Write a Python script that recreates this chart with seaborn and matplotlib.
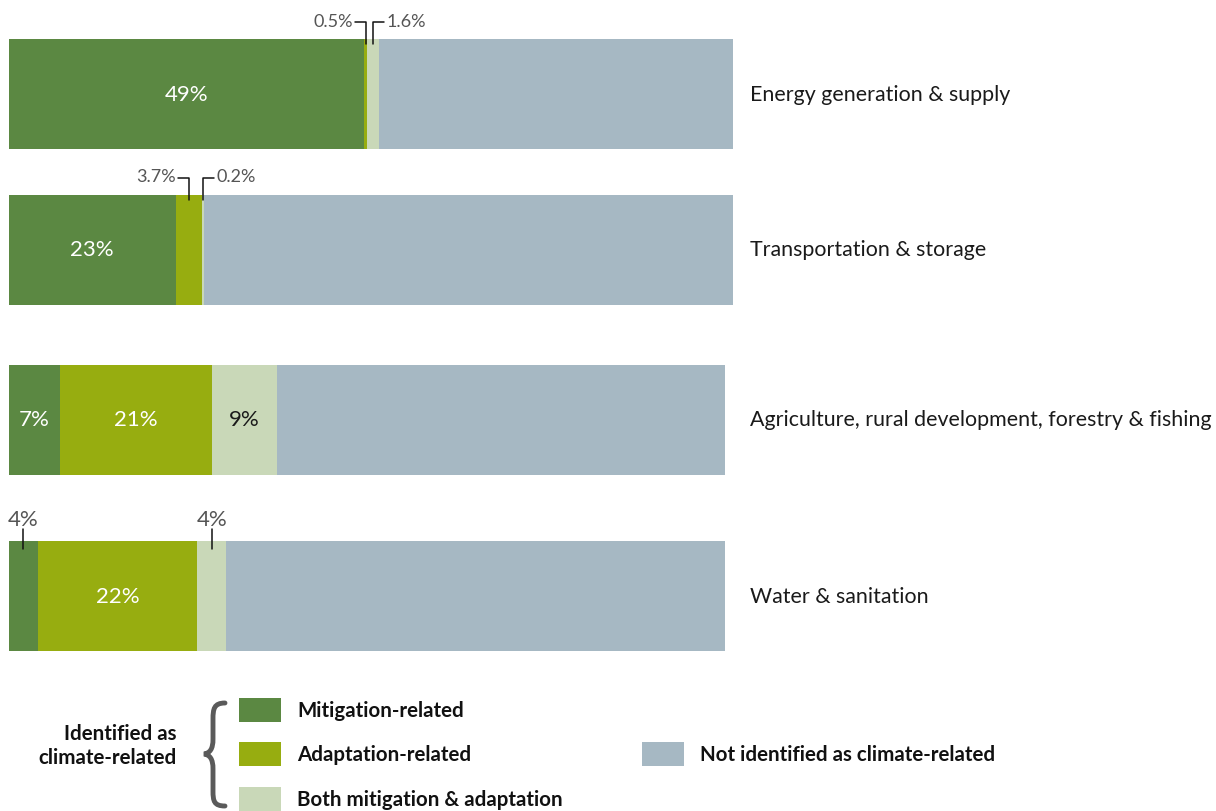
import matplotlib
matplotlib.use("Agg")
import matplotlib.pyplot as plt
import seaborn as sns
from matplotlib.path import Path
from matplotlib.patches import PathPatch, Rectangle

# data
sectors = ['Energy generation & supply', 'Transportation & storage',
           'Agriculture, rural development, forestry & fishing', 'Water & sanitation']
mitigation = [49, 23, 7, 4]
adaptation = [0.5, 3.7, 21, 22]
both = [1.6, 0.2, 9, 4]
not_climate = [48.9, 73.1, 61.9, 68.9]

series = ['Mitigation-related', 'Adaptation-related', 'Both mitigation & adaptation',
          'Not identified as climate-related']
colors = ['#5b8842', '#97ad10', '#c9d8b8', '#a6b8c3']

# layout: row centres (px from top) and bar height
row_y = [95, 250.5, 420.5, 597]
bar_h = 110

sns.set_theme(style='white')
plt.rcParams['font.family'] = ['Lato', 'DejaVu Sans']

fig = plt.figure(figsize=(12.16, 8.12), dpi=100)
ax = fig.add_axes([0, 0, 1, 1])
px = 7.24  # pixels per percent
ax.set_xlim(-9 / px, (1216 - 9) / px)
ax.set_ylim(812, 0)
ax.axis('off')

vals = [mitigation, adaptation, both, not_climate]
lefts = [0, 0, 0, 0]
starts = []
for s, col in zip(vals, colors):
    ax.barh(row_y, s, left=lefts, height=bar_h, color=col, linewidth=0)
    starts.append(list(lefts))
    lefts = [l + v for l, v in zip(lefts, s)]

def centre(k, i):
    return starts[k][i] + vals[k][i] / 2

# labels inside bars
big = 16
for i in range(3):
    ax.text(centre(0, i), row_y[i], f'{mitigation[i]:g}%', color='white', fontsize=big,
            ha='center', va='center')
ax.text(centre(1, 2), row_y[2], f'{adaptation[2]:g}%', color='white', fontsize=big, ha='center', va='center')
ax.text(centre(2, 2), row_y[2], f'{both[2]:g}%', color='#1a1a1a', fontsize=big, ha='center', va='center')
ax.text(centre(1, 3), row_y[3], f'{adaptation[3]:g}%', color='white', fontsize=big, ha='center', va='center')

# callouts above thin segments
grey = '#555555'
def callout(k, i, side, rise=17):
    x = centre(k, i)
    top = row_y[i] - bar_h / 2
    yh = top - rise
    dx = 1.5 if side == 'right' else -1.5
    ax.plot([x, x, x + dx], [top + 5, yh, yh], color='#111111', lw=1.1)
    ax.text(x + dx + (0.3 if side == 'right' else -0.3), yh - 1, f'{vals[k][i]:g}%',
            color=grey, fontsize=13, ha='left' if side == 'right' else 'right', va='center')

callout(1, 0, 'left')
callout(2, 0, 'right')
callout(1, 1, 'left')
callout(2, 1, 'right')

for k in (0, 2):
    x = centre(k, 3)
    top = row_y[3] - bar_h / 2
    ax.plot([x, x], [top - 12, top + 8], color='#111111', lw=1.1)
    ax.text(x, top - 22, f'{vals[k][3]:g}%', color=grey, fontsize=16, ha='center', va='center')

# sector names on the right
for i, name in enumerate(sectors):
    ax.text((750 - 9) / px, row_y[i], name, fontsize=15.4, color='#1a1a1a', ha='left', va='center')

# legend in pixel space
lg = fig.add_axes([0, 0, 1, 1])
lg.set_xlim(0, 1216)
lg.set_ylim(812, 0)
lg.axis('off')
lg.patch.set_alpha(0)

items = [(239, 711, 0), (239, 755, 1), (239, 800, 2), (642, 755, 3)]
for x0, yc, k in items:
    lg.add_patch(Rectangle((x0, yc - 12), 42, 24, color=colors[k], lw=0))
    lg.text(x0 + 58, yc, series[k], fontsize=14.8, fontweight='bold', color='#111111',
            ha='left', va='center')

lg.text(177, 746, 'Identified as\nclimate-related', fontsize=14.8, fontweight='bold',
        color='#111111', ha='right', va='center', linespacing=1.25)

verts = [(225, 704), (214, 704), (213, 710), (213, 720), (213, 740),
         (213, 750), (210, 754), (204, 755),
         (210, 756), (213, 760), (213, 770), (213, 792),
         (213, 802), (214, 807), (225, 807)]
codes = [Path.MOVETO, Path.CURVE4, Path.CURVE4, Path.CURVE4, Path.LINETO,
         Path.CURVE4, Path.CURVE4, Path.CURVE4,
         Path.CURVE4, Path.CURVE4, Path.CURVE4, Path.LINETO,
         Path.CURVE4, Path.CURVE4, Path.CURVE4]
lg.add_patch(PathPatch(Path(verts, codes), fill=False, lw=3.5, edgecolor='#5a5a5a',
                       capstyle='round'))

fig.savefig('out.png', dpi=100)
